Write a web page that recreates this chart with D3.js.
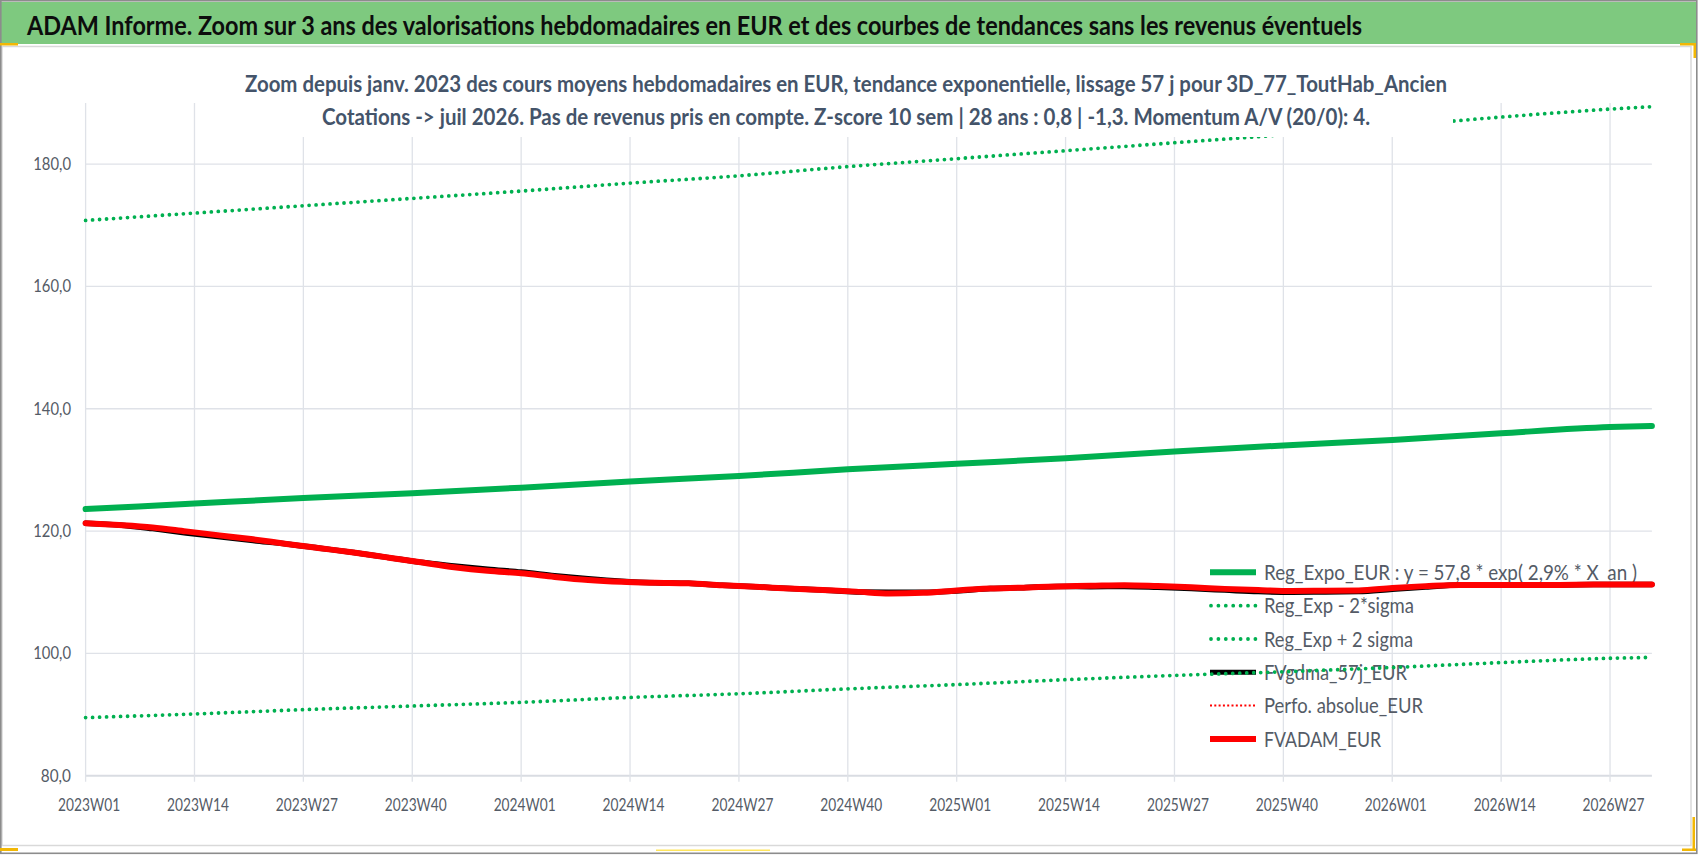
<!DOCTYPE html>
<html><head><meta charset="utf-8">
<script src="https://cdn.jsdelivr.net/npm/d3@7"></script>
<style>
html,body{margin:0;padding:0;background:#fff;}
svg{display:block;font-family:"Lato","Open Sans","Noto Sans",sans-serif;}
</style></head>
<body>
<script>
// ---------- DATA ----------
const titleText = "ADAM Informe. Zoom sur 3 ans des valorisations hebdomadaires en EUR et des courbes de tendances sans les revenus éventuels";
const subtitle1 = "Zoom depuis janv. 2023 des cours moyens hebdomadaires en EUR, tendance exponentielle, lissage 57 j pour 3D_77_ToutHab_Ancien";
const subtitle2 = "Cotations -> juil 2026. Pas de revenus pris en compte. Z-score 10 sem | 28 ans : 0,8 | -1,3. Momentum A/V (20/0): 4.";

const yearWeekCounts = [[2023, 52], [2024, 52], [2025, 52], [2026, 32]];
const weeks = [];
yearWeekCounts.forEach(([y, n]) => { for (let w = 1; w <= n; w++) weeks.push(y + "W" + String(w).padStart(2, "0")); });

const tickLabels = ["2023W01","2023W14","2023W27","2023W40","2024W01","2024W14","2024W27","2024W40",
  "2025W01","2025W14","2025W27","2025W40","2026W01","2026W14","2026W27"];
const yTicks = [80, 100, 120, 140, 160, 180];

// trend series sampled at the tick weeks + last week
const trendWeeks = ["2023W01","2023W14","2023W27","2023W40","2024W01","2024W14","2024W27","2024W40",
  "2025W01","2025W14","2025W27","2025W40","2026W01","2026W14","2026W27","2026W32"];
const regExpo   = [123.6,124.5,125.4,126.2,127.1,128.1,129.0,130.1,131.0,131.9,133.0,134.0,134.9,136.0,137.0,137.2];
const regMinus2 = [89.5,90.1,90.8,91.4,92.0,92.8,93.4,94.2,94.9,95.7,96.4,97.0,97.7,98.5,99.2,99.35];
const regPlus2  = [170.8,172.0,173.2,174.4,175.6,176.9,178.1,179.6,180.9,182.2,183.5,184.8,186.2,187.7,189.0,189.4];

// price series sampled every 4 weeks
const priceWeeks = ["2023W01","2023W05","2023W09","2023W13","2023W17","2023W21","2023W25","2023W29","2023W33","2023W37","2023W41","2023W45","2023W49",
  "2024W01","2024W05","2024W09","2024W13","2024W17","2024W21","2024W25","2024W29","2024W33","2024W37","2024W41","2024W45","2024W49",
  "2025W01","2025W05","2025W09","2025W13","2025W17","2025W21","2025W25","2025W29","2025W33","2025W37","2025W41","2025W45","2025W49",
  "2026W01","2026W05","2026W09","2026W13","2026W17","2026W21","2026W25","2026W29","2026W32"];
const fvadam = [121.3,121.0,120.6,119.95,119.3,118.65,117.9,117.2,116.5,115.7,114.9,114.1,113.5,
  113.1,112.5,112.0,111.7,111.55,111.45,111.15,110.9,110.6,110.35,110.1,109.8,109.9,
  110.3,110.6,110.75,110.95,111.05,111.15,111.0,110.8,110.55,110.35,110.2,110.25,110.3,
  110.7,111.0,111.2,111.2,111.2,111.2,111.25,111.25,111.25];
const fvgdma = [121.3,121.0,120.4,119.7,119.05,118.45,117.9,117.2,116.5,115.7,114.9,114.3,113.75,
  113.3,112.7,112.2,111.8,111.55,111.45,111.15,110.9,110.6,110.35,110.05,110.0,110.0,
  110.2,110.6,110.75,110.95,110.9,110.95,110.8,110.6,110.35,110.1,110.0,110.05,110.1,
  110.5,110.85,111.2,111.2,111.2,111.2,111.25,111.25,111.25];

const legendItems = [
  {label: "Reg_Expo_EUR : y = 57,8 * exp( 2,9% * X_an )", kind: "green", w: 373},
  {label: "Reg_Exp - 2*sigma", kind: "gdot", w: 150},
  {label: "Reg_Exp + 2 sigma", kind: "gdot", w: 149},
  {label: "FVgdma_57j_EUR", kind: "black", w: 143},
  {label: "Perfo. absolue_EUR", kind: "rdot", w: 159},
  {label: "FVADAM_EUR", kind: "red", w: 117}
];

// ---------- DRAW ----------
const W = 1698, H = 856;
const svg = d3.select("body").append("svg").attr("width", W).attr("height", H);

const x = d3.scalePoint().domain(weeks).range([85.6, 1651.9]);
const y = d3.scaleLinear().domain([80, 190]).range([775.7, 103]);

const GREEN = "#00B050", TXT = "#545b66", GRID = "#dfe2e8";

svg.append("rect").attr("width", W).attr("height", H).attr("fill", "#fff");
// chart area border
svg.append("rect").attr("x", 2).attr("y", 46.5).attr("width", 1689).attr("height", 799)
  .attr("fill", "#fff").attr("stroke", "#d9d9d9").attr("stroke-width", 1.5);
// title bar
svg.append("rect").attr("x", 1).attr("y", 2).attr("width", 1696).attr("height", 42).attr("fill", "#7EC97F");
svg.append("text").attr("x", 27).attr("y", 35).attr("font-size", 26).attr("font-weight", "bold").attr("fill", "#0d0d0d")
  .attr("textLength", 1335).attr("lengthAdjust", "spacingAndGlyphs").text(titleText);
// outer frame
svg.append("rect").attr("x", 0.8).attr("y", 0.8).attr("width", 1696).attr("height", 852.5)
  .attr("fill", "none").attr("stroke", "#8c8c8c").attr("stroke-width", 1.6);

// gridlines
const g = svg.append("g");
g.selectAll("line.h").data(yTicks).join("line")
  .attr("x1", x.range()[0]).attr("x2", x.range()[1])
  .attr("y1", d => y(d)).attr("y2", d => y(d))
  .attr("stroke", d => d === 80 ? "#d9dce2" : GRID).attr("stroke-width", d => d === 80 ? 2 : 1.3);
g.selectAll("line.v").data(tickLabels).join("line")
  .attr("x1", d => x(d)).attr("x2", d => x(d))
  .attr("y1", y(190)).attr("y2", y(80) + 6)
  .attr("stroke", GRID).attr("stroke-width", 1.3);

// axis labels
const xw = 62;
svg.append("g").selectAll("text").data(tickLabels).join("text")
  .attr("x", d => x(d) + 3.5 - xw / 2).attr("y", 810.7)
  .attr("font-size", 17).attr("fill", TXT)
  .attr("textLength", xw).attr("lengthAdjust", "spacingAndGlyphs")
  .text(d => d);
const fmtY = d => d3.format(".1f")(d).replace(".", ",");
svg.append("g").selectAll("text").data(yTicks).join("text")
  .attr("x", d => 71 - fmtY(d).length * 7.55).attr("y", d => y(d) + 6)
  .attr("font-size", 17).attr("fill", TXT)
  .attr("textLength", d => fmtY(d).length * 7.55).attr("lengthAdjust", "spacingAndGlyphs")
  .text(fmtY);

// legend (drawn beneath the series)
const lg = svg.append("g");
const rowY = [572.3, 605.7, 639, 672.3, 705.5, 739];
legendItems.forEach((it, i) => {
  const cy = rowY[i];
  const ln = lg.append("line").attr("x1", 1210).attr("x2", 1256).attr("y1", cy).attr("y2", cy);
  if (it.kind === "green") ln.attr("stroke", GREEN).attr("stroke-width", 6);
  else if (it.kind === "gdot") ln.attr("x1", 1211).attr("stroke", GREEN).attr("stroke-width", 3.8)
    .attr("stroke-linecap", "round").attr("stroke-dasharray", "0 7.4");
  else if (it.kind === "black") ln.attr("stroke", "#000").attr("stroke-width", 5);
  else if (it.kind === "rdot") ln.attr("stroke", "#ff0000").attr("stroke-width", 2).attr("stroke-dasharray", "2 2.3");
  else ln.attr("stroke", "#ff0000").attr("stroke-width", 6);
  lg.append("text").attr("x", 1264).attr("y", cy + 7.6).attr("font-size", 21).attr("fill", TXT)
    .attr("textLength", it.w).attr("lengthAdjust", "spacingAndGlyphs").text(it.label);
});

// series
const trendLine = vals => d3.line().x((d, i) => x(trendWeeks[i])).y(d => y(d)).curve(d3.curveMonotoneX)(vals);
const priceLine = vals => d3.line().x((d, i) => x(priceWeeks[i])).y(d => y(d)).curve(d3.curveMonotoneX)(vals);
const s = svg.append("g").attr("fill", "none");
s.append("path").attr("d", trendLine(regExpo)).attr("stroke", GREEN).attr("stroke-width", 6).attr("stroke-linecap", "round");
[regMinus2, regPlus2].forEach(v => s.append("path").attr("d", trendLine(v)).attr("stroke", GREEN)
  .attr("stroke-width", 3.8).attr("stroke-linecap", "round").attr("stroke-dasharray", "0 7"));
s.append("path").attr("d", priceLine(fvgdma)).attr("stroke", "#000").attr("stroke-width", 5.5).attr("stroke-linecap", "round");
s.append("path").attr("d", priceLine(fvadam)).attr("stroke", "#ff0000").attr("stroke-width", 6).attr("stroke-linecap", "round").attr("stroke-linejoin", "round");

// subtitle box on top of the plot
svg.append("rect").attr("x", 238).attr("y", 58).attr("width", 1215).attr("height", 79).attr("fill", "#fff");
svg.append("text").attr("x", 245).attr("y", 91.7).attr("font-size", 22).attr("font-weight", "bold").attr("fill", "#44546A")
  .attr("textLength", 1202).attr("lengthAdjust", "spacingAndGlyphs").text(subtitle1);
svg.append("text").attr("x", 322).attr("y", 125.3).attr("font-size", 22).attr("font-weight", "bold").attr("fill", "#44546A")
  .attr("textLength", 1048).attr("lengthAdjust", "spacingAndGlyphs").text(subtitle2);

// selection handle marks
const OR = "#F2B705";
[[0, 43, 18, 2.5], [1680, 43, 16, 2.5], [1693.5, 43, 2.5, 15], [0, 848, 18, 3], [1682, 848.5, 14, 2.5], [1692.5, 817, 2.5, 34]]
  .forEach(r => svg.append("rect").attr("x", r[0]).attr("y", r[1]).attr("width", r[2]).attr("height", r[3]).attr("fill", OR));
svg.append("rect").attr("x", 656).attr("y", 849.5).attr("width", 114).attr("height", 1.5).attr("fill", "#FFE55C");
</script>
</body></html>
